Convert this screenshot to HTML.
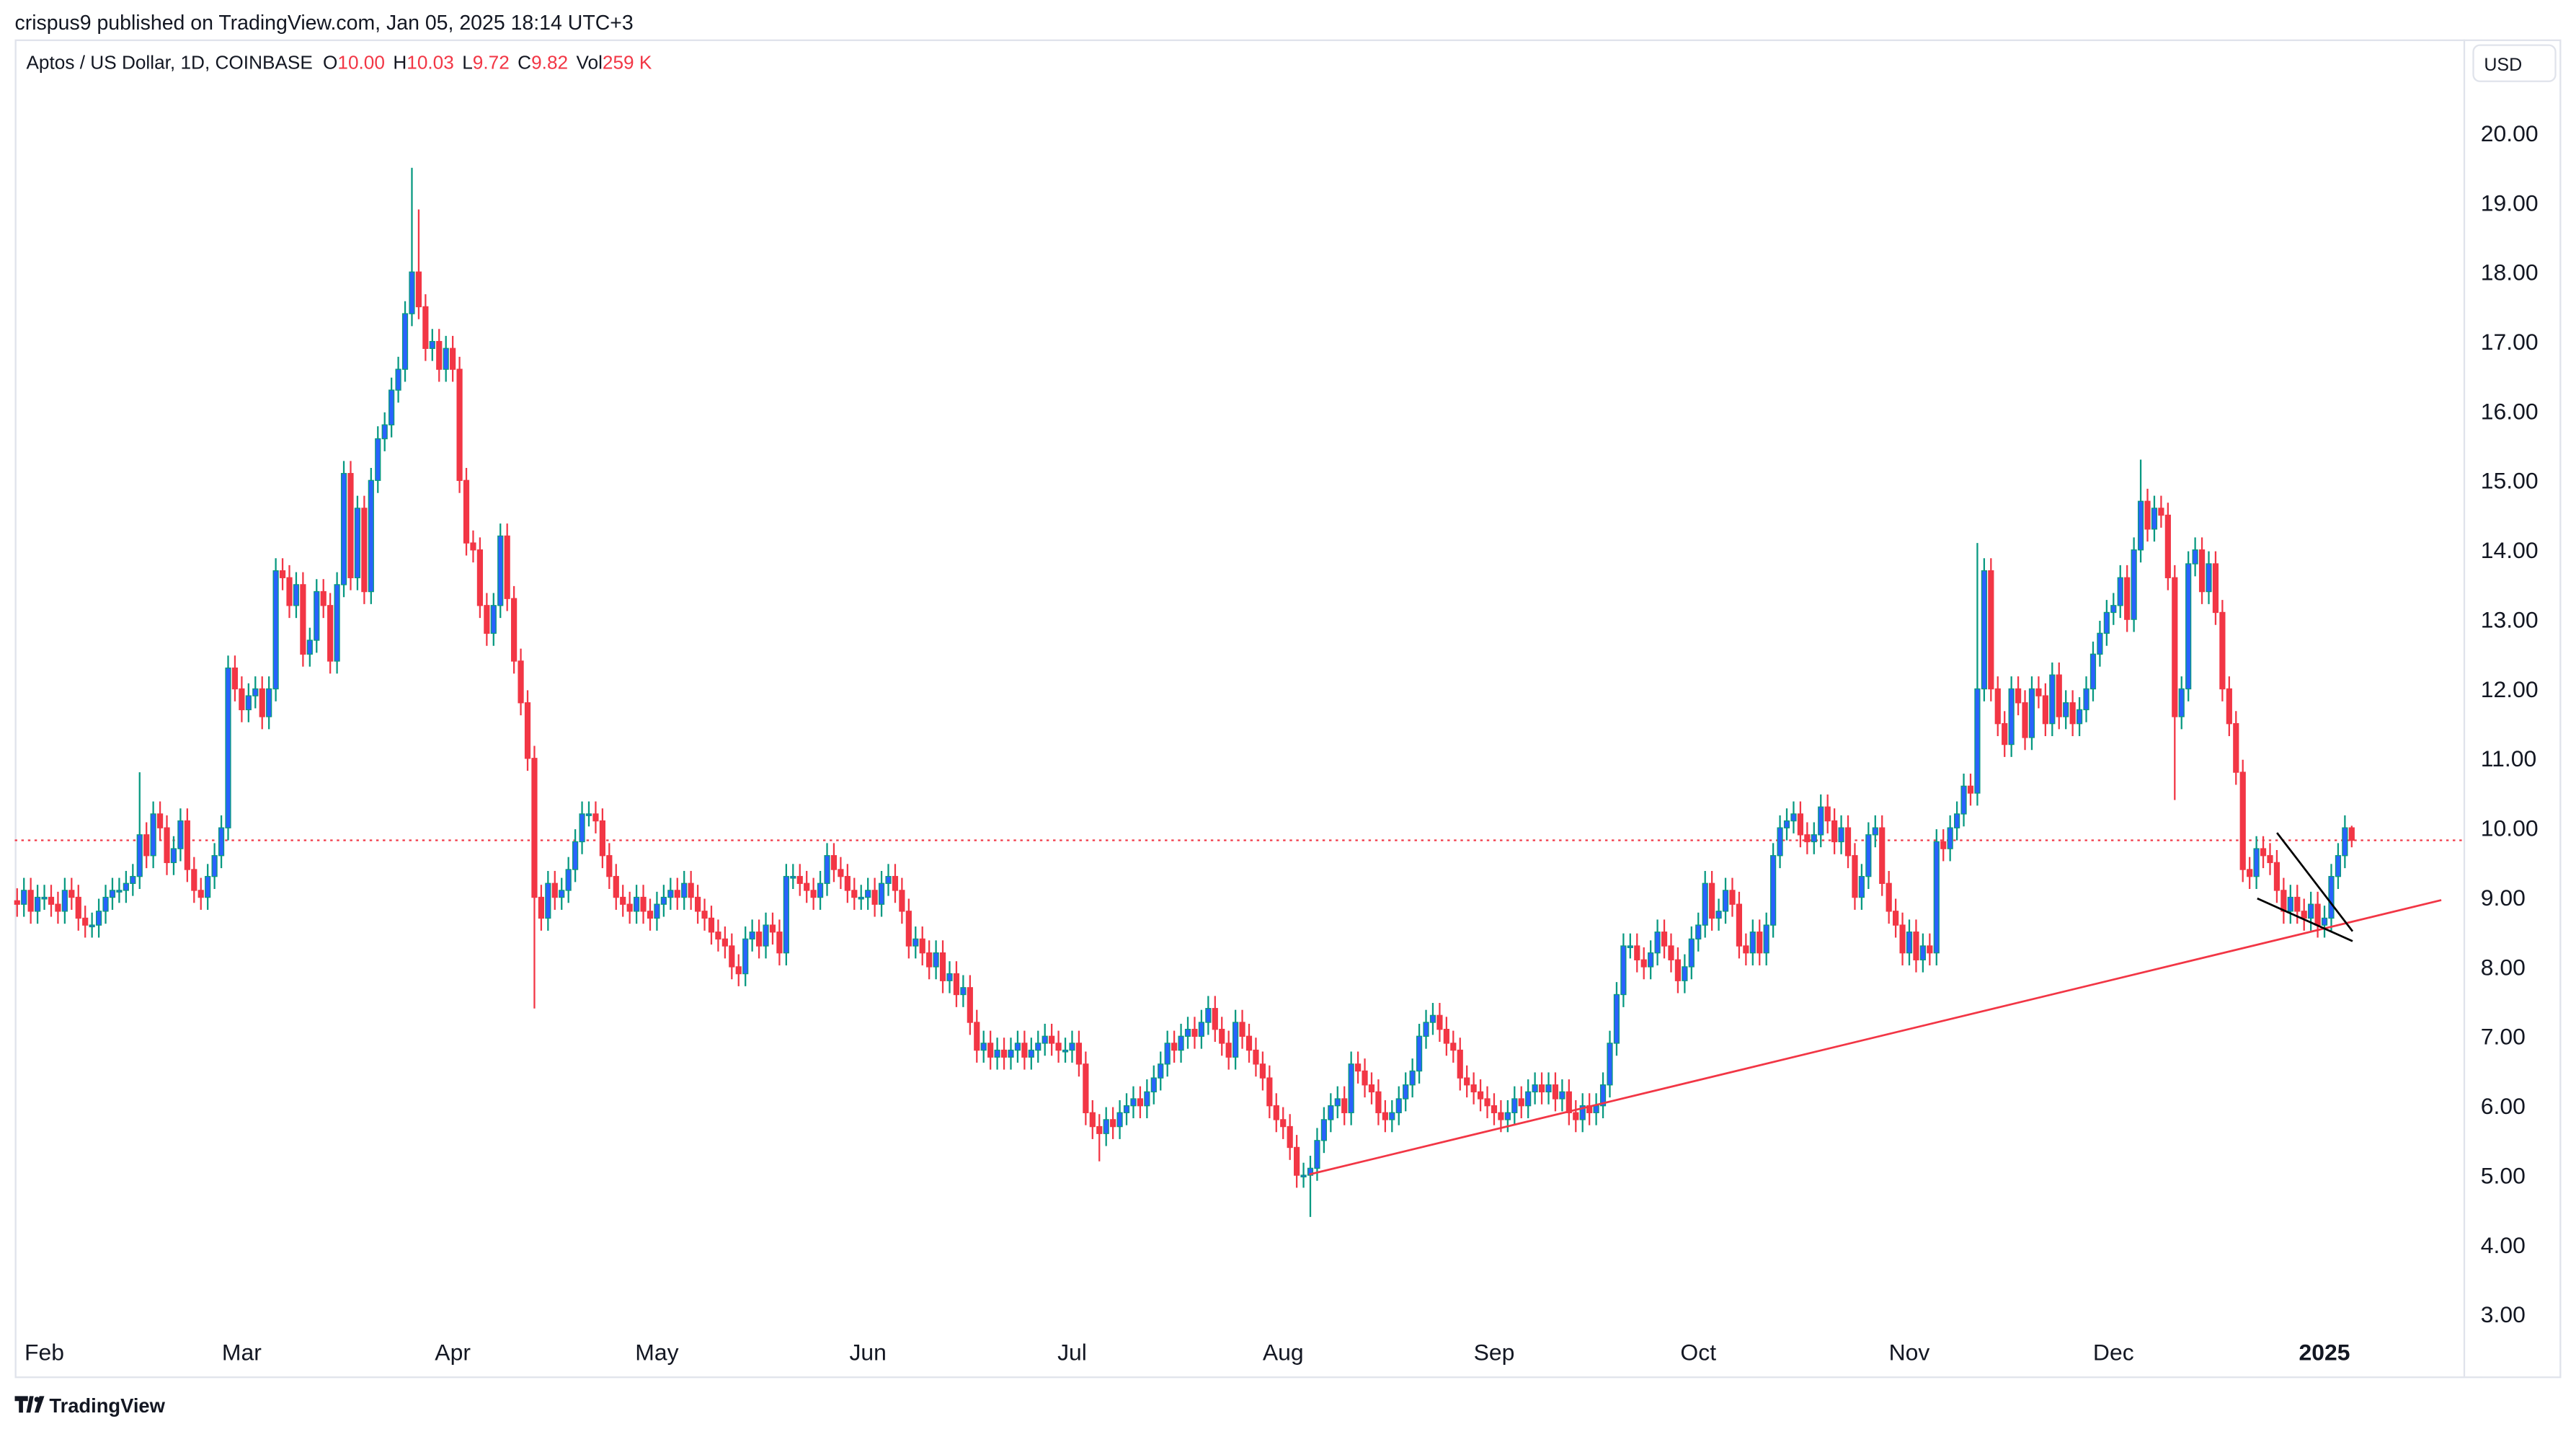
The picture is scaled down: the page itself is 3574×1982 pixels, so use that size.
<!DOCTYPE html>
<html><head><meta charset="utf-8"><style>
html,body{margin:0;padding:0;background:#fff;}
svg{display:block;font-family:"Liberation Sans",sans-serif;}
</style></head><body>
<svg id="chart" width="3574" height="1982" viewBox="0 0 1568 870" preserveAspectRatio="none" xmlns="http://www.w3.org/2000/svg">
<rect x="0" y="0" width="1568" height="870" fill="#fff"/>
<text x="9" y="18" font-size="12.5" fill="#131722">crispus9 published on TradingView.com, Jan 05, 2025 18:14 UTC+3</text>
<rect x="9.5" y="24.5" width="1549" height="814" fill="none" stroke="#e0e3eb" stroke-width="1"/>
<line x1="1500" y1="24" x2="1500" y2="838" stroke="#e0e3eb" stroke-width="1"/>
<g font-size="11.5">
<text x="16" y="42" fill="#131722">Aptos / US Dollar, 1D, COINBASE <tspan dx="3">O</tspan><tspan fill="#f23645">10.00</tspan><tspan dx="5">H</tspan><tspan fill="#f23645">10.03</tspan><tspan dx="5">L</tspan><tspan fill="#f23645">9.72</tspan><tspan dx="5">C</tspan><tspan fill="#f23645">9.82</tspan><tspan dx="5">Vol</tspan><tspan fill="#f23645">259 K</tspan></text>
</g>
<g>
<rect x="1505.5" y="27.5" width="50" height="22" rx="4" fill="#fff" stroke="#e0e3eb"/>
<text x="1512" y="43" font-size="11" fill="#131722">USD</text>
</g>
<g id="yaxis"></g>
<g id="xaxis"></g>
<g id="candles"></g>
<g id="drawings"></g>
<g>
<path d="M9 850h8v3h-3v7h-2.5v-7H9z M18 850h2.5l-2 10H16z" fill="#131722"/>
<circle cx="22.5" cy="852" r="1.6" fill="#131722"/>
<path d="M24 850h3l-3.5 10H21z" fill="#131722"/>
<text x="30" y="860" font-size="12" font-weight="bold" fill="#131722">TradingView</text>
</g>
</svg>
<script>
const janLead=[8.9,9.1,8.8,9.0];
const feb=[9.0,8.9,8.8,9.1,9.0,8.7,8.6, 8.6,8.8,9.0,9.1,9.1,9.2,9.3, 9.9,9.6,10.2,10.0,9.5,9.7,10.1, 9.4,9.1,9.0,9.3,9.6,10.0,12.3,12.0];
const mar=[11.7,11.9,12.0,11.6,12.0,13.7,13.6, 13.2,13.5,12.5,12.7,13.4,13.2,12.4, 13.5,15.1,13.6,14.6,13.4,15.0,15.6, 15.8,16.3,16.6,17.4,18.0,17.5,16.9, 17.0,16.6,16.9];
const apr=[16.6,15.0,14.1,14.0,13.2,12.8,13.2, 14.2,13.3,12.4,11.8,11.0,9.0,8.7, 9.2,9.0,9.1,9.4,9.8,10.2,10.2, 10.1,9.6,9.3,9.0,8.9,8.8,9.0, 8.8,8.7];
const may=[8.9,9.0,9.1,9.0,9.2,9.0,8.8, 8.7,8.5,8.4,8.3,8.0,7.9,8.4, 8.5,8.3,8.6,8.5,8.2,9.3,9.3, 9.2,9.1,9.0,9.2,9.6,9.4,9.3, 9.1,9.0,9.0];
const jun=[9.1,8.9,9.2,9.3,9.1,8.8,8.3, 8.4,8.2,8.0,8.2,7.8,7.9,7.6, 7.7,7.2,6.8,6.9,6.7,6.8,6.7, 6.8,6.9,6.7,6.8,6.9,7.0,6.9, 6.8,6.8];
const jul=[6.9,6.6,5.9,5.7,5.6,5.8,5.7, 5.9,6.0,6.1,6.0,6.2,6.4,6.6, 6.9,6.8,7.0,7.1,7.0,7.2,7.4, 7.1,6.9,6.7,7.2,7.0,6.8,6.6, 6.4,6.0,5.8];
const aug=[5.7,5.4,5.0,5.0,5.1,5.5,5.8, 6.0,6.1,5.9,6.6,6.5,6.3,6.2, 5.9,5.8,5.9,6.1,6.3,6.5,7.0, 7.2,7.3,7.1,6.9,6.8,6.4,6.3, 6.2,6.1,6.0];
const sep=[5.9,5.8,5.9,6.1,6.0,6.2,6.3, 6.2,6.3,6.1,6.2,5.9,5.8,6.0, 5.9,6.0,6.3,6.9,7.6,8.3,8.3, 8.1,8.0,8.2,8.5,8.3,8.1,7.8, 8.0,8.4];
const oct=[8.6,9.2,8.7,8.8,9.1,8.9,8.3, 8.2,8.5,8.2,8.6,9.6,10.0,10.1, 10.2,9.9,9.8,9.9,10.3,10.1,9.8, 10.0,9.6,9.0,9.3,9.9,10.0,9.2, 8.8,8.6,8.2];
const nov=[8.5,8.1,8.3,8.2,9.8,9.7,10.0, 10.2,10.6,10.5,12.0,13.7,12.0,11.5, 11.2,12.0,11.8,11.3,12.0,11.9,11.5, 12.2,11.6,11.8,11.5,11.7,12.0,12.5, 12.8,13.1];
const dec=[13.2,13.6,13.0,14.0,14.7,14.3,14.6, 14.5,13.6,11.6,12.0,13.8,14.0,13.4, 13.8,13.1,12.0,11.5,10.8,9.4,9.3, 9.7,9.6,9.5,9.1,8.8,9.0,8.8, 8.7,8.9,8.6];
const jan=[8.7,9.3,9.6,10.0,9.82];
const closes=[].concat(janLead,feb,mar,apr,may,jun,jul,aug,sep,oct,nov,dec,jan);
const firstOpen=8.95;
// notable wick extremes: [dayIndex, high, low]
const spikeDays=[18,58,59,76,159,190,288,312,317,343];
const spikeHighs=[10.8,19.5,18.9,null,null,null,14.1,15.3,null,10.03];
const spikeLows=[null,null,null,7.4,5.2,4.4,null,null,10.4,9.72];
const priceTicks=[3,4,5,6,7,8,9,10,11,12,13,14,15,16,17,18,19,20];
const monthLabels=["Feb","Mar","Apr","May","Jun","Jul","Aug","Sep","Oct","Nov","Dec","2025"];
const monthStartDays=[4,33,64,94,125,155,186,217,247,278,308,339];
const lastPrice=9.82;

const NS="http://www.w3.org/2000/svg";
const yScale=p=>81+(20-p)*42.3;
const xScale=d=>27+(d-4)*4.143;
function mk(tag,attrs,parent){const e=document.createElementNS(NS,tag);for(const k in attrs)e.setAttribute(k,attrs[k]);parent.appendChild(e);return e;}

const ya=document.getElementById('yaxis');
priceTicks.forEach(p=>{const t=mk('text',{x:1510,y:yScale(p)+5,'font-size':14,fill:'#131722'},ya);


t.textContent=p.toFixed(2);});

const xa=document.getElementById('xaxis');
monthLabels.forEach((m,i)=>{const t=mk('text',{x:xScale(monthStartDays[i]),y:828,'font-size':14,fill:'#131722','text-anchor':'middle','font-weight':m==='2025'?'bold':'normal'},xa);


t.textContent=m;});

const cg=document.getElementById('candles');
const pl=mk('line',{x1:9,x2:1500,y1:yScale(lastPrice),y2:yScale(lastPrice),stroke:'#f23645','stroke-width':1,'stroke-dasharray':'1.5 2.5'},cg);


for(let i=0;i<closes.length;i++){
  const o=i===0?firstOpen:closes[i-1], c=closes[i];
  let h=Math.max(o,c)+0.18, l=Math.min(o,c)-0.18;
  const si=spikeDays.indexOf(i);
  if(si>=0){if(spikeHighs[si]!==null)h=spikeHighs[si];if(spikeLows[si]!==null)l=spikeLows[si];}
  const up=c>=o, x=xScale(i);
  const col=up?'#089981':'#f23645';
  const g=mk('g',{},cg);
  
  
  mk('line',{x1:x,x2:x,y1:yScale(h),y2:yScale(l),stroke:col,'stroke-width':1},g);
  const top=yScale(Math.max(o,c)), bot=yScale(Math.min(o,c));
  mk('rect',{x:x-1.5,y:top,width:3,height:Math.max(1,bot-top),fill:up?'#2962ff':'#f23645',stroke:col,'stroke-width':0.6},g);
}

const dg=document.getElementById('drawings');
const tl=mk('line',{x1:797,y1:715,x2:1486,y2:548,stroke:'#f23645','stroke-width':1.2},dg);


const w1=mk('line',{x1:1386,y1:507,x2:1432,y2:567,stroke:'#000','stroke-width':1.2},dg);


const w2=mk('line',{x1:1374,y1:547,x2:1432,y2:573,stroke:'#000','stroke-width':1.2},dg);


</script>
</body></html>
